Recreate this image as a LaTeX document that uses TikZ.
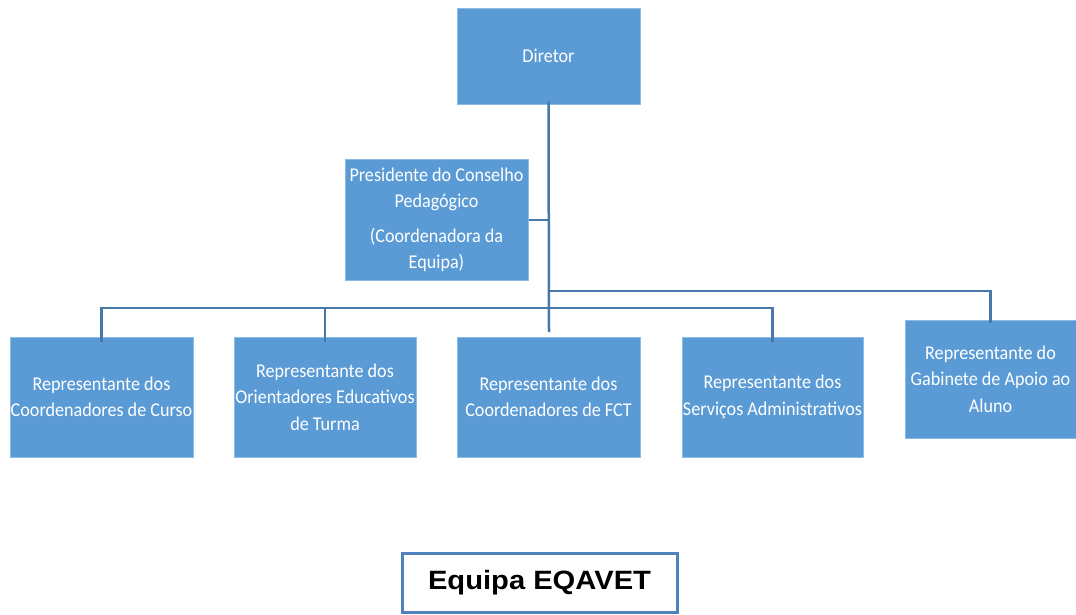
\documentclass[tikz,border=0pt]{standalone}
\usepackage{fontspec}
\newfontfamily\boxfont[FakeStretch=0.93]{Carlito}
\newfontfamily\arialfont[FakeStretch=1.1]{Liberation Sans}
\definecolor{boxblue}{HTML}{5B9BD5}
\definecolor{boxedge}{HTML}{8DBBE6}
\definecolor{linkblue}{HTML}{4678A8}
\definecolor{titleedge}{HTML}{4F81BD}
\tikzset{
  orgbox/.style={rectangle, fill=boxblue, draw=boxedge, line width=1pt, text=white,
    align=center, inner sep=0pt, font=\boxfont\fontsize{19.5}{26.5}\selectfont},
  link/.style={draw=linkblue, line width=2.5pt},
  titlebox/.style={rectangle, draw=titleedge, line width=3pt, fill=white,
    inner sep=0pt, font=\arialfont\bfseries\fontsize{26.5}{30}\selectfont}
}
\begin{document}
\begin{tikzpicture}[x=1pt,y=-1pt]
\useasboundingbox (0,0) rectangle (1076,614);
\node[orgbox, minimum width=183pt, minimum height=96pt] (dir) at (548.5,56) {Diretor};
\node[orgbox, minimum width=183pt, minimum height=121pt] (pres) at (436.5,220)
  {Presidente do Conselho\\Pedagógico\\[8pt](Coordenadora da\\Equipa)};
\node[orgbox, minimum width=183pt, minimum height=120pt] (b1) at (101.5,397)
  {Representante dos\\Coordenadores de Curso};
\node[orgbox, minimum width=182pt, minimum height=120pt] (b2) at (325,397)
  {Representante dos\\Orientadores Educativos\\de Turma};
\node[orgbox, minimum width=183pt, minimum height=120pt] (b3) at (548.5,397)
  {Representante dos\\Coordenadores de FCT};
\node[orgbox, minimum width=181pt, minimum height=120pt] (b4) at (772.5,397)
  {Representante dos\\Serviços Administrativos};
\node[orgbox, minimum width=171pt, minimum height=118pt] (b5) at (990.5,379)
  {Representante do\\Gabinete de Apoio ao\\Aluno};
\node[titlebox, minimum width=275pt, minimum height=59pt] (title) at (539.5,582.5) {Equipa EQAVET};

\coordinate (trunkTop) at ([yshift=3pt]dir.south);
\coordinate (trunkBot) at (549,332);
\coordinate (jPres) at (549,220);
\coordinate (j1) at (549,308);
\coordinate (j2) at (549,291);
\path[link] (trunkTop) -- (trunkBot);
\path[link] (pres.east) -- (jPres);
\path[link] (j1) -| ([yshift=-5pt]b1.north);
\path[link] (j1) -| ([yshift=-5pt]b2.north);
\path[link] (j1) -| ([yshift=-5pt]b4.north);
\path[link] (j2) -| ([yshift=-3pt]b5.north);
\end{tikzpicture}
\end{document}
